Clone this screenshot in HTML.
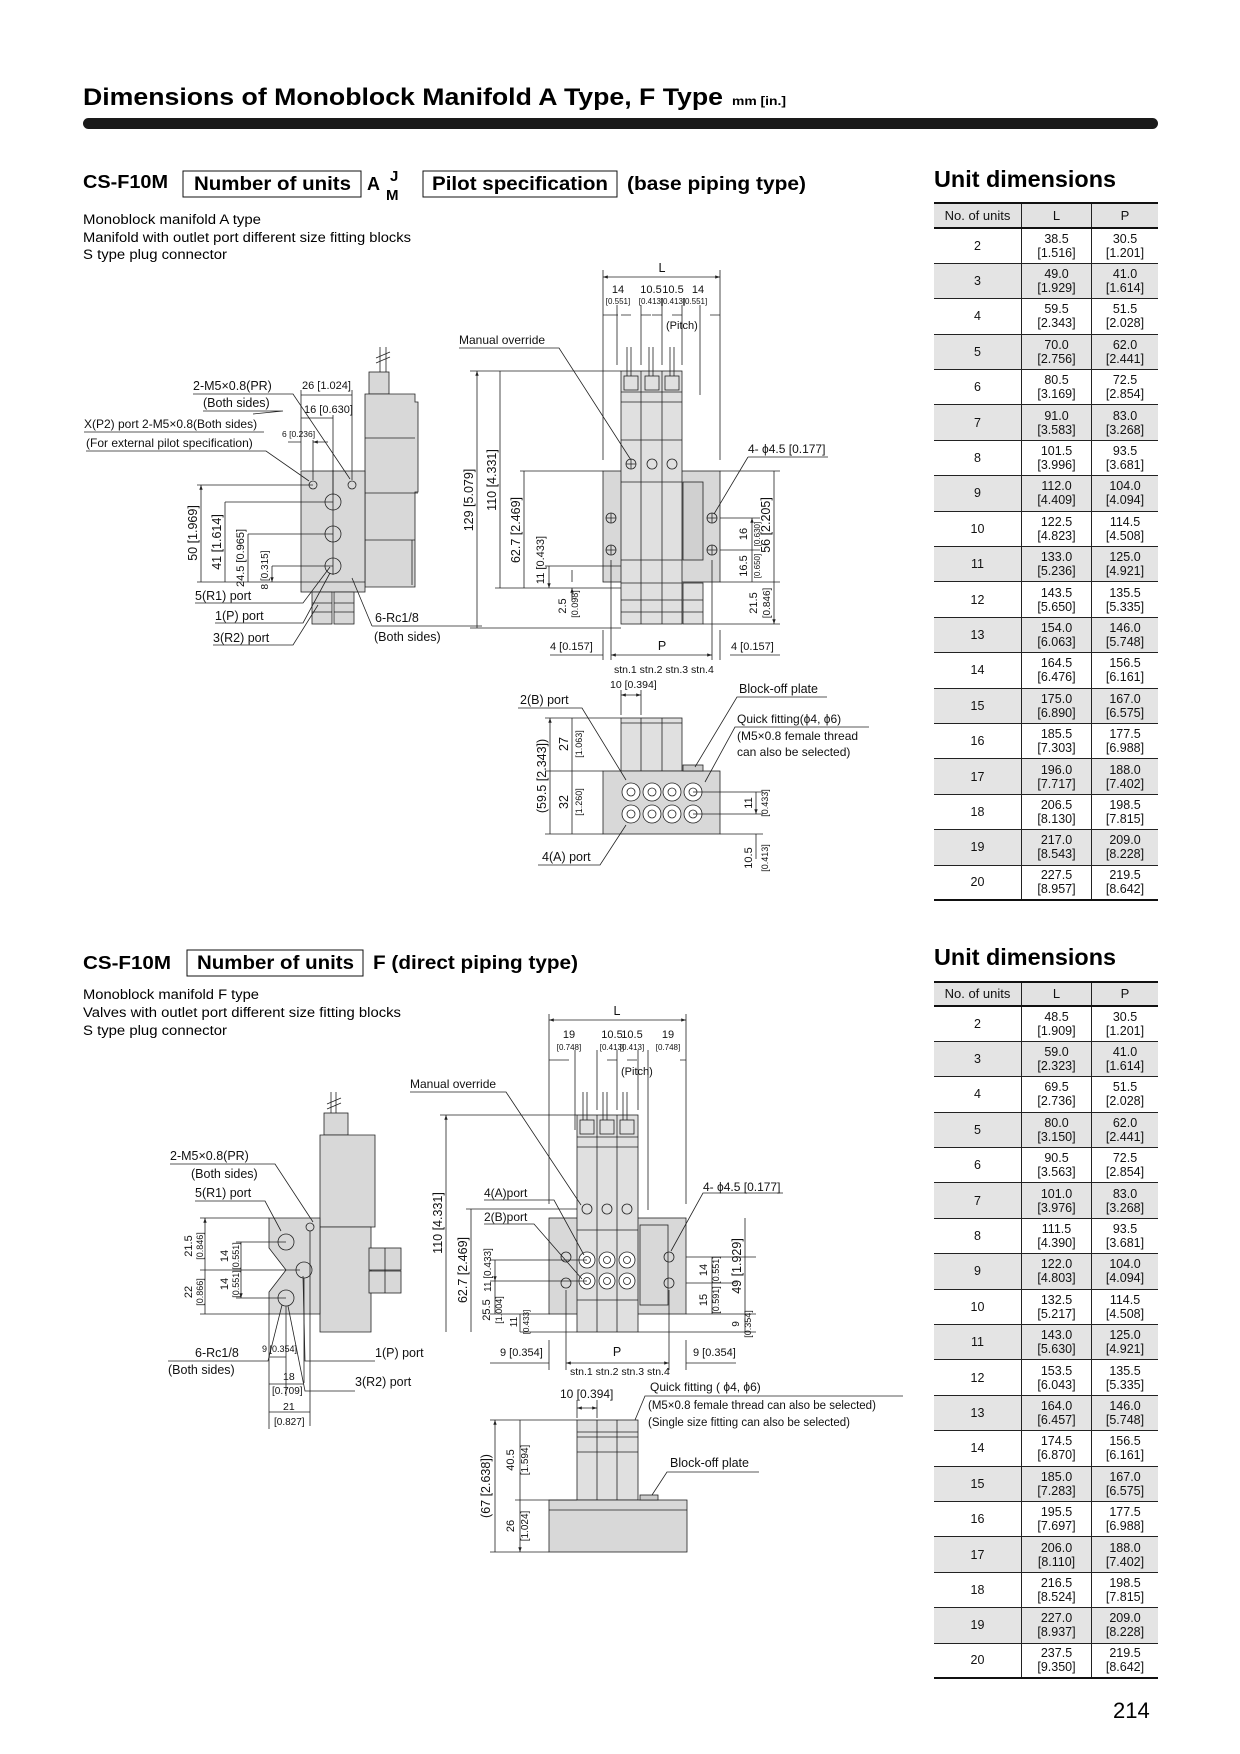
<!DOCTYPE html>
<html><head><meta charset="utf-8"><style>
body{margin:0;background:#fff;}
.pg{position:relative;width:1240px;height:1754px;overflow:hidden;font-family:"Liberation Sans",sans-serif;color:#111;}
table.ud{position:absolute;left:934px;width:224px;border-collapse:collapse;font-size:12.5px;table-layout:fixed;}
table.ud td{border-left:1px solid #222;border-top:1px solid #222;text-align:center;padding:0;line-height:14px;}
table.ud td:first-child{border-left:none;width:87px;}
table.ud td:nth-child(2){width:69px;}
table.ud tr.h td{background:#e2e2e2;font-size:13px;border-top:2px solid #111;border-bottom:2px solid #111;}
table.ud tr.g td{background:#e4e4e4;}
table.ud tr:last-child td{border-bottom:2px solid #111;}
</style></head><body><div class="pg">
<svg width="1240" height="1754" style="position:absolute;left:0;top:0" font-family="Liberation Sans, sans-serif">
<defs>
<marker id="a" viewBox="0 0 10 10" refX="10" refY="5" markerWidth="6" markerHeight="6" orient="auto-start-reverse"><path d="M0,1.5L10,5L0,8.5z" fill="#222"/></marker>
</defs>
<text x="83" y="105" font-size="24" font-weight="bold" textLength="640" lengthAdjust="spacingAndGlyphs">Dimensions of Monoblock Manifold A Type, F Type</text>
<text x="732" y="105" font-size="12" font-weight="bold" textLength="54" lengthAdjust="spacingAndGlyphs">mm [in.]</text>
<rect x="83" y="118" width="1075" height="11" rx="5.5" fill="#1a1a1a"/>
<text x="83" y="188" font-size="18" font-weight="bold" textLength="85" lengthAdjust="spacingAndGlyphs">CS-F10M</text>
<rect x="183" y="171" width="178" height="26" fill="none" stroke="#111"/>
<text x="194" y="190" font-size="19" font-weight="bold" textLength="157" lengthAdjust="spacingAndGlyphs">Number of units</text>
<text x="367" y="190" font-size="18" font-weight="bold">A</text>
<text x="390" y="181" font-size="15" font-weight="bold">J</text>
<text x="386" y="200" font-size="15" font-weight="bold">M</text>
<rect x="423" y="171" width="194" height="26" fill="none" stroke="#111"/>
<text x="432" y="190" font-size="19" font-weight="bold" textLength="176" lengthAdjust="spacingAndGlyphs">Pilot specification</text>
<text x="627" y="190" font-size="19" font-weight="bold" textLength="179" lengthAdjust="spacingAndGlyphs">(base piping type)</text>
<g font-size="13.5">
<text x="83" y="224" textLength="178" lengthAdjust="spacingAndGlyphs">Monoblock manifold A type</text>
<text x="83" y="242" textLength="328" lengthAdjust="spacingAndGlyphs">Manifold with outlet port different size fitting blocks</text>
<text x="83" y="259" textLength="144" lengthAdjust="spacingAndGlyphs">S type plug connector</text>
</g>
<text x="934" y="187" font-size="23" font-weight="bold" textLength="182" lengthAdjust="spacingAndGlyphs">Unit dimensions</text>
<text x="934" y="965" font-size="23" font-weight="bold" textLength="182" lengthAdjust="spacingAndGlyphs">Unit dimensions</text>
<text x="83" y="969" font-size="18" font-weight="bold" textLength="88" lengthAdjust="spacingAndGlyphs">CS-F10M</text>
<rect x="187" y="950" width="176" height="26" fill="none" stroke="#111"/>
<text x="197" y="969" font-size="19" font-weight="bold" textLength="157" lengthAdjust="spacingAndGlyphs">Number of units</text>
<text x="373" y="969" font-size="19" font-weight="bold" textLength="205" lengthAdjust="spacingAndGlyphs">F (direct piping type)</text>
<g font-size="13.5">
<text x="83" y="999" textLength="176" lengthAdjust="spacingAndGlyphs">Monoblock manifold F type</text>
<text x="83" y="1017" textLength="318" lengthAdjust="spacingAndGlyphs">Valves with outlet port different size fitting blocks</text>
<text x="83" y="1035" textLength="144" lengthAdjust="spacingAndGlyphs">S type plug connector</text>
</g>
<text x="1113" y="1718" font-size="22">214</text>

<g stroke="#222" stroke-width="0.8" fill="none">
<path d="M380,347v25M386,347v25M376,358l14,-6M376,363l14,-6"/>
<rect x="369" y="372" width="20" height="22" fill="#d8d8d8"/>
<path d="M365,394h50v8h3v90h-3v95h-50z" fill="#d8d8d8"/>
<path d="M365,493h53M365,540h50M365,438h50M412,540v45"/>
<rect x="301" y="471" width="64" height="121" fill="#d8d8d8"/>
<path d="M301,582h64"/>
<rect x="312" y="592" width="20" height="32" fill="#d8d8d8"/><rect x="334" y="592" width="20" height="32" fill="#d8d8d8"/>
<path d="M312,603h20M312,612h20M334,603h20M334,612h20"/>
<circle cx="313" cy="485" r="4"/><circle cx="352" cy="485" r="4"/>
<circle cx="333" cy="502" r="8"/><circle cx="333" cy="534" r="8"/><circle cx="333" cy="566" r="8"/>
<path d="M333,470v105M197,582h104M197,485h116M225,502h108M248,534h85M272,566h61"/>
<path d="M201,485v97M225,502v80M248,534v48M272,566v16" marker-start="url(#a)" marker-end="url(#a)"/>
<path d="M301,470v-80M352,480v-90M333,495v-80M313,480v-40"/>
<path d="M301,395h51M301,418h32M288,442h13M328,442h-15" marker-end="url(#a)"/>
<path d="M193,394h100l57,85M203,411h80l-30,3M84,432h180M86,451h180l43,30"/>
<path d="M195,603h108l27,-36M215,623h88l27,-50M213,645h80l25,-40M372,626h110M372,626l-20,-48"/>
<rect x="603" y="471" width="117" height="111" fill="#d8d8d8"/>
<rect x="621" y="371" width="61" height="253" fill="#e0e0e0"/>
<path d="M641,371v253M662,371v253M621,392h61M621,402h61M621,440h61M621,482h61M621,560h61M621,583h61M621,600h61M621,612h61"/>
<rect x="683" y="482" width="20" height="78" fill="#d0d0d0"/>
<rect x="683" y="583" width="20" height="41" fill="#e0e0e0"/><path d="M683,600h20M683,612h20"/>
<rect x="624" y="376" width="14" height="14"/><rect x="645" y="376" width="14" height="14"/><rect x="665" y="376" width="14" height="14"/>
<path d="M627,347v29M631,347v29M649,347v29M653,347v29M670,347v29M674,347v29"/>
<circle cx="631" cy="464" r="5"/><circle cx="652" cy="464" r="5"/><circle cx="672" cy="464" r="5"/>
<circle cx="611" cy="518" r="5"/><circle cx="611" cy="550" r="5"/><circle cx="712" cy="518" r="5"/><circle cx="712" cy="550" r="5"/>
<path d="M606,518h10M611,513v10M606,550h10M611,545v10M707,518h10M712,513v10M707,550h10M712,545v10M626,464h10M631,459v10"/>
<path d="M603,270v190M720,270v190"/>
<path d="M603,277h117" marker-start="url(#a)" marker-end="url(#a)"/>
<path d="M603,315h15M631,315h-10M641,315h10M652,315h10M672,315h10M710,315h10"/>
<path d="M617,305v60M641,305v60M662,305v60M682,305v60M700,305v90"/>
<path d="M459,348h100l72,112"/>
<path d="M470,371h151M495,588h126M470,628h151M520,471h83M545,566h76"/>
<path d="M477,371v257M500,371v217M524,471v117M549,566v22" marker-start="url(#a)" marker-end="url(#a)"/>
<path d="M572,570v12M572,600v-12" marker-end="url(#a)"/>
<path d="M720,471h60M720,518h40M720,550h40M720,582h60M703,624h77"/>
<path d="M752,518v32M752,550v32M774,471v111M774,582v42" marker-start="url(#a)" marker-end="url(#a)"/>
<path d="M748,457h80M748,457l-34,57"/>
<path d="M603,630v30M611,560v100M712,560v100M720,630v30"/>
<path d="M550,655h53M730,655h50"/>
<path d="M611,655h101" marker-start="url(#a)" marker-end="url(#a)"/>
<rect x="621" y="718" width="61" height="53" fill="#e0e0e0"/>
<path d="M641,718v53M662,718v53M621,723h61"/>
<rect x="603" y="771" width="117" height="63" fill="#d8d8d8"/>
<rect x="683" y="765" width="20" height="6" fill="#ccc"/>
<g fill="#fff"><circle cx="631" cy="792" r="9"/><circle cx="652" cy="792" r="9"/><circle cx="672" cy="792" r="9"/><circle cx="693" cy="792" r="9"/>
<circle cx="631" cy="814" r="9"/><circle cx="652" cy="814" r="9"/><circle cx="672" cy="814" r="9"/><circle cx="693" cy="814" r="9"/></g>
<circle cx="631" cy="792" r="4"/><circle cx="652" cy="792" r="4"/><circle cx="672" cy="792" r="4"/><circle cx="693" cy="792" r="4"/>
<circle cx="631" cy="814" r="4"/><circle cx="652" cy="814" r="4"/><circle cx="672" cy="814" r="4"/><circle cx="693" cy="814" r="4"/>
<path d="M545,718h76M545,771h58M545,834h58M693,792h70M693,814h70M720,834h43M621,690v25M641,690v25"/>
<path d="M550,718v116M572,718v53M572,771v63M756,792v22" marker-start="url(#a)" marker-end="url(#a)"/>
<path d="M621,695h20" marker-start="url(#a)" marker-end="url(#a)"/>
<path d="M756,834v25"/>
<path d="M518,708h64l44,72M538,865h62l26,-40M827,697h-90l-42,70M869,727h-134l-30,55"/>
<path d="M331,1092v22M336,1092v22M327,1104l14,-6M327,1109l14,-6"/>
<rect x="324" y="1113" width="24" height="22" fill="#d8d8d8"/>
<path d="M320,1135h55v92h-55z" fill="#d8d8d8"/>
<path d="M320,1227h51v105h-51z" fill="#d8d8d8"/>
<rect x="369" y="1248" width="32" height="22" fill="#d8d8d8"/><rect x="369" y="1271" width="32" height="22" fill="#d8d8d8"/>
<path d="M385,1248v45"/>
<path d="M269,1218h51v96h-51v-22l17,-22l-17,-22z" fill="#d8d8d8"/>
<circle cx="310" cy="1227" r="4"/><circle cx="286" cy="1242" r="8"/><circle cx="304" cy="1270" r="8"/><circle cx="286" cy="1298" r="8"/>
<path d="M200,1218h69M200,1270h100M200,1314h69M236,1242h50M236,1298h50"/>
<path d="M205,1218v52M205,1270v44M241,1242v28M241,1270v28" marker-start="url(#a)" marker-end="url(#a)"/>
<path d="M269,1314v115M286,1306v90M304,1278v105M310,1231v195"/>
<path d="M269,1357h17M269,1384h35M269,1412h41"/>
<path d="M170,1164h105l38,58M195,1201h70l16,30M168,1361h100l14,-56M375,1361h-70l-2,-85M355,1391h-50l-17,-85"/>
<rect x="549" y="1218" width="137" height="96" fill="#d8d8d8"/>
<rect x="577" y="1115" width="61" height="217" fill="#e0e0e0"/>
<path d="M597,1115v217M617,1115v217M577,1137h61M577,1147h61M577,1230h61M577,1300h61"/>
<rect x="640" y="1225" width="28" height="80"/>
<rect x="580" y="1120" width="14" height="14"/><rect x="600" y="1120" width="14" height="14"/><rect x="620" y="1120" width="14" height="14"/>
<path d="M583,1092v28M587,1092v28M603,1092v28M607,1092v28M623,1092v28M627,1092v28"/>
<g fill="#fff"><circle cx="587" cy="1260" r="8"/><circle cx="607" cy="1260" r="8"/><circle cx="627" cy="1260" r="8"/>
<circle cx="587" cy="1281" r="8"/><circle cx="607" cy="1281" r="8"/><circle cx="627" cy="1281" r="8"/></g>
<circle cx="587" cy="1260" r="3.5"/><circle cx="607" cy="1260" r="3.5"/><circle cx="627" cy="1260" r="3.5"/>
<circle cx="587" cy="1281" r="3.5"/><circle cx="607" cy="1281" r="3.5"/><circle cx="627" cy="1281" r="3.5"/>
<circle cx="587" cy="1209" r="5"/><circle cx="607" cy="1209" r="5"/><circle cx="627" cy="1209" r="5"/>
<circle cx="566" cy="1257" r="5"/><circle cx="566" cy="1283" r="5"/><circle cx="669" cy="1257" r="5"/><circle cx="669" cy="1283" r="5"/>
<path d="M549,1014v190M686,1014v190M549,1060h20M607,1060h10M627,1060h10M680,1060h6M575,1050v80M597,1050v60M617,1050v60M638,1050v60M648,1050v160"/>
<path d="M549,1020h137" marker-start="url(#a)" marker-end="url(#a)"/>
<path d="M410,1092h96l75,113"/>
<path d="M484,1200h70l30,55M484,1224h50l48,55M783,1193h-80l-32,58"/>
<path d="M440,1115h137M466,1209h111M490,1260h97M490,1281h97M490,1314h60M520,1332h57"/>
<path d="M446,1115v217M471,1209v123M495,1260v21" marker-start="url(#a)" marker-end="url(#a)"/>
<path d="M495,1281v33M520,1314v18"/>
<path d="M686,1257h70M686,1283h50M686,1314h70M638,1332h118M712,1257v26M712,1283v31M745,1218v96M745,1314v18"/>
<path d="M549,1340v30M566,1290v80M669,1290v80M686,1340v30M490,1363h59M686,1363h50"/>
<path d="M566,1363h103" marker-start="url(#a)" marker-end="url(#a)"/>
<rect x="577" y="1420" width="61" height="80" fill="#e0e0e0"/>
<path d="M597,1420v80M617,1420v80M577,1432h61M577,1437h61M577,1452h61"/>
<rect x="549" y="1500" width="138" height="52" fill="#d8d8d8"/>
<path d="M549,1510h138"/>
<rect x="640" y="1495" width="18" height="5" fill="#ccc"/>
<path d="M490,1420h87M490,1552h59M515,1500h62M577,1400v18M597,1400v18"/>
<path d="M577,1408h20" marker-start="url(#a)" marker-end="url(#a)"/>
<path d="M495,1420v132M520,1420v80M520,1500v52" marker-start="url(#a)" marker-end="url(#a)"/>
<path d="M903,1396h-258l-10,24M759,1472h-92l-15,23"/>
</g>

<g font-size="12.5" fill="#111">
<text x="193" y="390">2-M5×0.8(PR)</text>
<text x="203" y="407">(Both sides)</text>
<text x="302" y="389" font-size="11">26 [1.024]</text>
<text x="304" y="413" font-size="11">16 [0.630]</text>
<text x="282" y="437" font-size="8.5">6 [0.236]</text>
<text x="84" y="428" font-size="12">X(P2) port  2-M5×0.8(Both sides)</text>
<text x="86" y="447" font-size="12">(For external pilot specification)</text>
<text transform="translate(197,533) rotate(-90)" text-anchor="middle">50 [1.969]</text>
<text transform="translate(221,542) rotate(-90)" text-anchor="middle">41 [1.614]</text>
<text transform="translate(244,558) rotate(-90)" text-anchor="middle" font-size="11">24.5 [0.965]</text>
<text transform="translate(268,570) rotate(-90)" text-anchor="middle" font-size="10">8 [0.315]</text>
<text x="195" y="600">5(R1) port</text>
<text x="215" y="620">1(P) port</text>
<text x="213" y="642">3(R2) port</text>
<text x="375" y="622">6-Rc1/8</text>
<text x="374" y="641">(Both sides)</text>
<text x="662" y="272" text-anchor="middle">L</text>
<text x="618" y="293" text-anchor="middle" font-size="11">14</text>
<text x="618" y="304" text-anchor="middle" font-size="8">[0.551]</text>
<text x="651" y="293" text-anchor="middle" font-size="11">10.5</text><text x="673" y="293" text-anchor="middle" font-size="11">10.5</text><text x="698" y="293" text-anchor="middle" font-size="11">14</text>
<text x="651" y="304" text-anchor="middle" font-size="8">[0.413]</text><text x="673" y="304" text-anchor="middle" font-size="8">[0.413]</text><text x="695" y="304" text-anchor="middle" font-size="8">[0.551]</text>
<text x="666" y="329" font-size="11">(Pitch)</text>
<text x="459" y="344" font-size="12">Manual override</text>
<text transform="translate(473,500) rotate(-90)" text-anchor="middle">129 [5.079]</text>
<text transform="translate(496,480) rotate(-90)" text-anchor="middle">110 [4.331]</text>
<text transform="translate(520,530) rotate(-90)" text-anchor="middle">62.7 [2.469]</text>
<text transform="translate(544,560) rotate(-90)" text-anchor="middle" font-size="11">11 [0.433]</text>
<text transform="translate(566,606) rotate(-90)" text-anchor="middle" font-size="11">2.5</text>
<text transform="translate(578,604) rotate(-90)" text-anchor="middle" font-size="9">[0.098]</text>
<text x="748" y="453" font-size="12">4- ϕ4.5 [0.177]</text>
<text transform="translate(747,534) rotate(-90)" text-anchor="middle" font-size="11">16</text>
<text transform="translate(760,534) rotate(-90)" text-anchor="middle" font-size="8">[0.630]</text>
<text transform="translate(747,566) rotate(-90)" text-anchor="middle" font-size="11">16.5</text>
<text transform="translate(760,566) rotate(-90)" text-anchor="middle" font-size="8">[0.650]</text>
<text transform="translate(770,525) rotate(-90)" text-anchor="middle">56 [2.205]</text>
<text transform="translate(757,603) rotate(-90)" text-anchor="middle" font-size="11">21.5</text>
<text transform="translate(770,603) rotate(-90)" text-anchor="middle" font-size="10">[0.846]</text>
<text x="550" y="650" font-size="11">4 [0.157]</text>
<text x="662" y="650" text-anchor="middle">P</text>
<text x="731" y="650" font-size="11">4 [0.157]</text>
<text x="614" y="673" font-size="10.5">stn.1 stn.2 stn.3 stn.4</text>
<text x="610" y="688" font-size="10.5">10 [0.394]</text>
<text x="520" y="704">2(B) port</text>
<text x="739" y="693">Block-off plate</text>
<text x="737" y="723" font-size="12">Quick fitting(ϕ4, ϕ6)</text>
<text x="737" y="740" font-size="12">(M5×0.8 female thread</text>
<text x="737" y="756" font-size="12">can also be selected)</text>
<text x="542" y="861">4(A) port</text>
<text transform="translate(546,776) rotate(-90)" text-anchor="middle">(59.5 [2.343])</text>
<text transform="translate(568,744) rotate(-90)" text-anchor="middle">27</text>
<text transform="translate(582,744) rotate(-90)" text-anchor="middle" font-size="9">[1.063]</text>
<text transform="translate(568,802) rotate(-90)" text-anchor="middle">32</text>
<text transform="translate(582,802) rotate(-90)" text-anchor="middle" font-size="9">[1.260]</text>
<text transform="translate(752,803) rotate(-90)" text-anchor="middle" font-size="11">11</text>
<text transform="translate(768,803) rotate(-90)" text-anchor="middle" font-size="9">[0.433]</text>
<text transform="translate(752,858) rotate(-90)" text-anchor="middle" font-size="11">10.5</text>
<text transform="translate(768,858) rotate(-90)" text-anchor="middle" font-size="9">[0.413]</text>
<text x="170" y="1160">2-M5×0.8(PR)</text>
<text x="191" y="1178">(Both sides)</text>
<text x="195" y="1197">5(R1) port</text>
<text transform="translate(192,1246) rotate(-90)" text-anchor="middle" font-size="11">21.5</text>
<text transform="translate(203,1246) rotate(-90)" text-anchor="middle" font-size="9">[0.846]</text>
<text transform="translate(192,1292) rotate(-90)" text-anchor="middle" font-size="11">22</text>
<text transform="translate(203,1292) rotate(-90)" text-anchor="middle" font-size="9">[0.866]</text>
<text transform="translate(228,1256) rotate(-90)" text-anchor="middle" font-size="11">14</text>
<text transform="translate(239,1256) rotate(-90)" text-anchor="middle" font-size="9">[0.551]</text>
<text transform="translate(228,1284) rotate(-90)" text-anchor="middle" font-size="11">14</text>
<text transform="translate(239,1284) rotate(-90)" text-anchor="middle" font-size="9">[0.551]</text>
<text x="262" y="1352" font-size="9">9 [0.354]</text>
<text x="283" y="1380" font-size="10.5">18</text>
<text x="272" y="1394" font-size="10">[0.709]</text>
<text x="283" y="1410" font-size="10.5">21</text>
<text x="274" y="1425" font-size="10">[0.827]</text>
<text x="195" y="1357">6-Rc1/8</text>
<text x="168" y="1374">(Both sides)</text>
<text x="375" y="1357">1(P) port</text>
<text x="355" y="1386">3(R2) port</text>
<text x="617" y="1015" text-anchor="middle">L</text>
<text x="569" y="1038" text-anchor="middle" font-size="11">19</text>
<text x="569" y="1050" text-anchor="middle" font-size="8">[0.748]</text>
<text x="612" y="1038" text-anchor="middle" font-size="11">10.5</text><text x="632" y="1038" text-anchor="middle" font-size="11">10.5</text><text x="668" y="1038" text-anchor="middle" font-size="11">19</text>
<text x="612" y="1050" text-anchor="middle" font-size="8">[0.413]</text><text x="632" y="1050" text-anchor="middle" font-size="8">[0.413]</text><text x="668" y="1050" text-anchor="middle" font-size="8">[0.748]</text>
<text x="621" y="1075" font-size="11">(Pitch)</text>
<text x="410" y="1088" font-size="12">Manual override</text>
<text x="484" y="1197" font-size="12">4(A)port</text>
<text x="484" y="1221" font-size="12">2(B)port</text>
<text x="703" y="1191" font-size="12">4- ϕ4.5 [0.177]</text>
<text transform="translate(442,1223) rotate(-90)" text-anchor="middle">110 [4.331]</text>
<text transform="translate(467,1270) rotate(-90)" text-anchor="middle">62.7 [2.469]</text>
<text transform="translate(491,1270) rotate(-90)" text-anchor="middle" font-size="10">11 [0.433]</text>
<text transform="translate(490,1310) rotate(-90)" text-anchor="middle" font-size="11">25.5</text>
<text transform="translate(502,1310) rotate(-90)" text-anchor="middle" font-size="9">[1.004]</text>
<text transform="translate(517,1322) rotate(-90)" text-anchor="middle" font-size="10">11</text>
<text transform="translate(529,1322) rotate(-90)" text-anchor="middle" font-size="8">[0.433]</text>
<text transform="translate(707,1270) rotate(-90)" text-anchor="middle" font-size="11">14</text>
<text transform="translate(719,1270) rotate(-90)" text-anchor="middle" font-size="9">[0.551]</text>
<text transform="translate(707,1300) rotate(-90)" text-anchor="middle" font-size="11">15</text>
<text transform="translate(719,1300) rotate(-90)" text-anchor="middle" font-size="9">[0.591]</text>
<text transform="translate(741,1266) rotate(-90)" text-anchor="middle">49 [1.929]</text>
<text transform="translate(739,1324) rotate(-90)" text-anchor="middle" font-size="10">9</text>
<text transform="translate(751,1324) rotate(-90)" text-anchor="middle" font-size="9">[0.354]</text>
<text x="500" y="1356" font-size="11">9 [0.354]</text>
<text x="617" y="1356" text-anchor="middle">P</text>
<text x="693" y="1356" font-size="11">9 [0.354]</text>
<text x="570" y="1375" font-size="10.5">stn.1 stn.2 stn.3 stn.4</text>
<text x="560" y="1398" font-size="12">10 [0.394]</text>
<text x="650" y="1391" font-size="12">Quick fitting ( ϕ4,  ϕ6)</text>
<text x="648" y="1409" font-size="11.5">(M5×0.8 female thread can also be selected)</text>
<text x="648" y="1426" font-size="11.5">(Single size fitting can also be selected)</text>
<text x="670" y="1467">Block-off plate</text>
<text transform="translate(490,1486) rotate(-90)" text-anchor="middle">(67 [2.638])</text>
<text transform="translate(514,1460) rotate(-90)" text-anchor="middle" font-size="11">40.5</text>
<text transform="translate(528,1460) rotate(-90)" text-anchor="middle" font-size="10">[1.594]</text>
<text transform="translate(514,1526) rotate(-90)" text-anchor="middle" font-size="11">26</text>
<text transform="translate(528,1526) rotate(-90)" text-anchor="middle" font-size="10">[1.024]</text>
</g>
</svg>

<table class="ud" style="top:202px">
<tr class="h" style="height:25px"><td>No. of units</td><td>L</td><td>P</td></tr>
<tr style="height:35.4px"><td>2</td><td>38.5<br>[1.516]</td><td>30.5<br>[1.201]</td></tr>
<tr class="g" style="height:35.4px"><td>3</td><td>49.0<br>[1.929]</td><td>41.0<br>[1.614]</td></tr>
<tr style="height:35.4px"><td>4</td><td>59.5<br>[2.343]</td><td>51.5<br>[2.028]</td></tr>
<tr class="g" style="height:35.4px"><td>5</td><td>70.0<br>[2.756]</td><td>62.0<br>[2.441]</td></tr>
<tr style="height:35.4px"><td>6</td><td>80.5<br>[3.169]</td><td>72.5<br>[2.854]</td></tr>
<tr class="g" style="height:35.4px"><td>7</td><td>91.0<br>[3.583]</td><td>83.0<br>[3.268]</td></tr>
<tr style="height:35.4px"><td>8</td><td>101.5<br>[3.996]</td><td>93.5<br>[3.681]</td></tr>
<tr class="g" style="height:35.4px"><td>9</td><td>112.0<br>[4.409]</td><td>104.0<br>[4.094]</td></tr>
<tr style="height:35.4px"><td>10</td><td>122.5<br>[4.823]</td><td>114.5<br>[4.508]</td></tr>
<tr class="g" style="height:35.4px"><td>11</td><td>133.0<br>[5.236]</td><td>125.0<br>[4.921]</td></tr>
<tr style="height:35.4px"><td>12</td><td>143.5<br>[5.650]</td><td>135.5<br>[5.335]</td></tr>
<tr class="g" style="height:35.4px"><td>13</td><td>154.0<br>[6.063]</td><td>146.0<br>[5.748]</td></tr>
<tr style="height:35.4px"><td>14</td><td>164.5<br>[6.476]</td><td>156.5<br>[6.161]</td></tr>
<tr class="g" style="height:35.4px"><td>15</td><td>175.0<br>[6.890]</td><td>167.0<br>[6.575]</td></tr>
<tr style="height:35.4px"><td>16</td><td>185.5<br>[7.303]</td><td>177.5<br>[6.988]</td></tr>
<tr class="g" style="height:35.4px"><td>17</td><td>196.0<br>[7.717]</td><td>188.0<br>[7.402]</td></tr>
<tr style="height:35.4px"><td>18</td><td>206.5<br>[8.130]</td><td>198.5<br>[7.815]</td></tr>
<tr class="g" style="height:35.4px"><td>19</td><td>217.0<br>[8.543]</td><td>209.0<br>[8.228]</td></tr>
<tr style="height:35.4px"><td>20</td><td>227.5<br>[8.957]</td><td>219.5<br>[8.642]</td></tr>
</table>

<table class="ud" style="top:981px">
<tr class="h" style="height:24px"><td>No. of units</td><td>L</td><td>P</td></tr>
<tr style="height:35.4px"><td>2</td><td>48.5<br>[1.909]</td><td>30.5<br>[1.201]</td></tr>
<tr class="g" style="height:35.4px"><td>3</td><td>59.0<br>[2.323]</td><td>41.0<br>[1.614]</td></tr>
<tr style="height:35.4px"><td>4</td><td>69.5<br>[2.736]</td><td>51.5<br>[2.028]</td></tr>
<tr class="g" style="height:35.4px"><td>5</td><td>80.0<br>[3.150]</td><td>62.0<br>[2.441]</td></tr>
<tr style="height:35.4px"><td>6</td><td>90.5<br>[3.563]</td><td>72.5<br>[2.854]</td></tr>
<tr class="g" style="height:35.4px"><td>7</td><td>101.0<br>[3.976]</td><td>83.0<br>[3.268]</td></tr>
<tr style="height:35.4px"><td>8</td><td>111.5<br>[4.390]</td><td>93.5<br>[3.681]</td></tr>
<tr class="g" style="height:35.4px"><td>9</td><td>122.0<br>[4.803]</td><td>104.0<br>[4.094]</td></tr>
<tr style="height:35.4px"><td>10</td><td>132.5<br>[5.217]</td><td>114.5<br>[4.508]</td></tr>
<tr class="g" style="height:35.4px"><td>11</td><td>143.0<br>[5.630]</td><td>125.0<br>[4.921]</td></tr>
<tr style="height:35.4px"><td>12</td><td>153.5<br>[6.043]</td><td>135.5<br>[5.335]</td></tr>
<tr class="g" style="height:35.4px"><td>13</td><td>164.0<br>[6.457]</td><td>146.0<br>[5.748]</td></tr>
<tr style="height:35.4px"><td>14</td><td>174.5<br>[6.870]</td><td>156.5<br>[6.161]</td></tr>
<tr class="g" style="height:35.4px"><td>15</td><td>185.0<br>[7.283]</td><td>167.0<br>[6.575]</td></tr>
<tr style="height:35.4px"><td>16</td><td>195.5<br>[7.697]</td><td>177.5<br>[6.988]</td></tr>
<tr class="g" style="height:35.4px"><td>17</td><td>206.0<br>[8.110]</td><td>188.0<br>[7.402]</td></tr>
<tr style="height:35.4px"><td>18</td><td>216.5<br>[8.524]</td><td>198.5<br>[7.815]</td></tr>
<tr class="g" style="height:35.4px"><td>19</td><td>227.0<br>[8.937]</td><td>209.0<br>[8.228]</td></tr>
<tr style="height:35.4px"><td>20</td><td>237.5<br>[9.350]</td><td>219.5<br>[8.642]</td></tr>
</table>
</div></body></html>
